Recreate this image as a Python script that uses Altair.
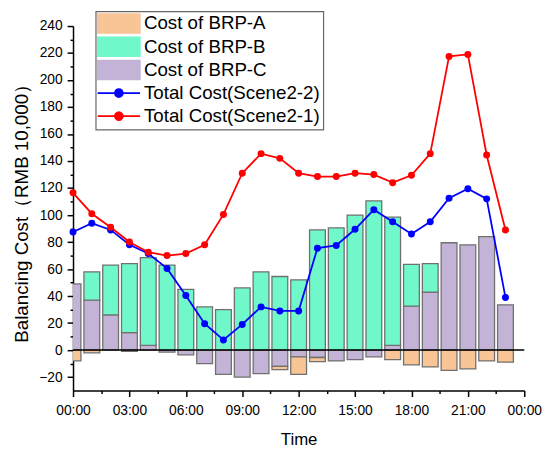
import math
import altair as alt
import pandas as pd

hours = list(range(24))
brp_a = [-8, -2, 0, -1, 0, 0, 0, 0, 0, 0, 0, -2.5, -13, -3, 0, 0, 0, -7, -11, -12.5, -15, -14, -8, -9]
brp_b = [0, 21, 37, 51, 65, 63, 45, 32, 30, 46, 58, 54.5, 52, 89, 90.5, 100, 110.5, 95, 31, 21, 0, 0, 0, 0]
brp_c = [49, 37, 26, 13, 3.5, -1.5, -3.5, -10, -18, -20, -17.5, -12, -5, -5.5, -8, -7, -5, 3.5, 32.5, 43, 79.5, 78, 84, 33.5]
total_s22 = [87.5, 94, 89, 78, 71.5, 60.5, 40.5, 19.5, 7.5, 19, 32, 29, 29, 75.5, 77.5, 89.5, 104, 95, 86, 95, 112.5, 119.5, 112, 39]
total_s21 = [116.5, 101, 91, 80, 72.5, 70, 71.5, 78, 100.5, 131, 145.5, 142, 131, 128.5, 128.5, 131, 130, 124, 129.5, 145.5, 217.5, 219, 144.5, 89]

series_names = ["Cost of BRP-A", "Cost of BRP-B", "Cost of BRP-C",
                "Total Cost(Scene2-2)", "Total Cost(Scene2-1)"]
series_colors = ["#F9C596", "#70F8CB", "#C3B3D7", "#0000FF", "#FF0000"]

x_major = [0, 3, 6, 9, 12, 15, 18, 21, 24]
x_minor = [1.5, 4.5, 7.5, 10.5, 13.5, 16.5, 19.5, 22.5]
y_major = list(range(-20, 241, 20))
y_minor = list(range(-10, 231, 20))

# long table for stacked bars (C nearest zero, then B, then A)
rows = []
for order_idx, (name, vals) in enumerate([(series_names[2], brp_c), (series_names[1], brp_b), (series_names[0], brp_a)]):
    for h, v in zip(hours, vals):
        if v != 0:
            rows.append({"hour": h, "series": name, "value": v, "ord": order_idx})
bars_df = pd.DataFrame(rows)

lines_df = pd.DataFrame({
    "hour": hours + hours,
    "value": total_s22 + total_s21,
    "series": [series_names[3]] * 24 + [series_names[4]] * 24,
})

FONT = "Liberation Sans"
xs = alt.Scale(domain=[0, 24], nice=False, zero=False)
ys = alt.Scale(domain=[-30, 240], nice=False, zero=False)
cs = alt.Scale(domain=series_names, range=series_colors)

x_axis = alt.Axis(values=x_major, title="Time", tickSize=6, labelPadding=7, titlePadding=15,
                  labelFlush=False, labelOverlap=False,
                  labelExpr="datum.value == 24 ? '00:00' : (datum.value < 10 ? '0' : '') + datum.value + ':00'")
y_axis = alt.Axis(values=y_major, title="Balancing Cost（RMB 10,000）", tickSize=6, labelPadding=5,
                  titlePadding=7, labelOverlap=False)

# legend symbol shapes (unit coordinates): wide swatch, and a line with a round marker
bar_names = "['" + "','".join(series_names[:3]) + "']"
is_bar = f"indexof({bar_names}, datum.value) >= 0"
rect_path = "M-1,-0.93H3.1V0.93H-1Z"
dot = " ".join(
    ("M" if k == 0 else "L") + f"{1.05 + 0.38 * math.cos(k * math.pi / 8):.3f},{0.38 * math.sin(k * math.pi / 8):.3f}"
    for k in range(16)
) + "Z"
line_path = "M-1,0H3.1" + dot

legend = alt.Legend(
    title=None, orient="none", legendX=23, legendY=-15, direction="vertical",
    symbolSize=441, labelFont=FONT, labelFontSize=19, labelColor="black",
    labelOffset=27, labelLimit=400, rowPadding=-1.5, padding=3, gridAlign="all",
    strokeColor="#666666", fillColor="white", symbolLimit=10, cornerRadius=0,
    symbolType={"expr": f"{is_bar} ? '{rect_path}' : '{line_path}'"},
    symbolFillColor={"expr": "scale('color', datum.value)"},
    symbolStrokeColor={"expr": f"{is_bar} ? '#707070' : scale('color', datum.value)"},
    symbolStrokeWidth={"expr": f"{is_bar} ? 1.3 : 1.8"},
    symbolOpacity=1,
)

bars = alt.Chart(bars_df).transform_stack(
    stack="value", groupby=["hour"], as_=["v0", "v1"], offset="zero",
    sort=[alt.SortField("ord", order="ascending")],
).transform_calculate(
    x0="datum.hour - 0.42", x1="datum.hour + 0.42"
).mark_bar(clip=True, stroke="#707070", strokeWidth=1.3).encode(
    x=alt.X("x0:Q", scale=xs, axis=x_axis),
    x2="x1:Q",
    y=alt.Y("v0:Q", scale=ys, axis=y_axis),
    y2="v1:Q",
    color=alt.Color("series:N", scale=cs, legend=legend),
)

zero = alt.Chart(pd.DataFrame({"z": [0]})).mark_rule(color="black", strokeWidth=1.5).encode(
    y=alt.Y("z:Q", scale=ys, axis=y_axis)
)

def total_line(name):
    return alt.Chart(lines_df).transform_filter(
        alt.datum.series == name
    ).mark_line(strokeWidth=1.8, point=alt.OverlayMarkDef(filled=True, size=50, opacity=1)).encode(
        x=alt.X("hour:Q", scale=xs, axis=x_axis),
        y=alt.Y("value:Q", scale=ys, axis=y_axis),
        color=alt.Color("series:N", scale=cs, legend=None),
    )

main = alt.layer(bars, zero, total_line(series_names[3]), total_line(series_names[4]))

minor = alt.Chart(lines_df).mark_point(opacity=0).encode(
    x=alt.X("hour:Q", scale=xs, axis=alt.Axis(values=x_minor, labels=False, tickSize=3, domain=False,
                                               title=None, orient="bottom", grid=False)),
    y=alt.Y("value:Q", scale=ys, axis=alt.Axis(values=y_minor, labels=False, tickSize=3, domain=False,
                                                title=None, orient="left", grid=False)),
)

chart = alt.layer(main, minor).resolve_axis(x="independent", y="independent").properties(
    width=458, height=370,
    autosize=alt.AutoSizeParams(type="none"),
    padding={"left": 66, "top": 15, "right": 18, "bottom": 58},
).configure_view(stroke=None).configure_axis(
    grid=False, domainColor="black", tickColor="black", domainWidth=1.5, tickWidth=1.5,
    labelColor="black", titleColor="black", labelFont=FONT, titleFont=FONT,
    labelFontSize=14, titleFontSize=17, titleFontWeight="normal", labelOverlap=False,
).configure_axisY(titleFontSize=19).configure_legend(strokeColor="#666666", strokeWidth=1.2)

chart.save("out.html", embed_options={"renderer": "svg", "actions": False})
